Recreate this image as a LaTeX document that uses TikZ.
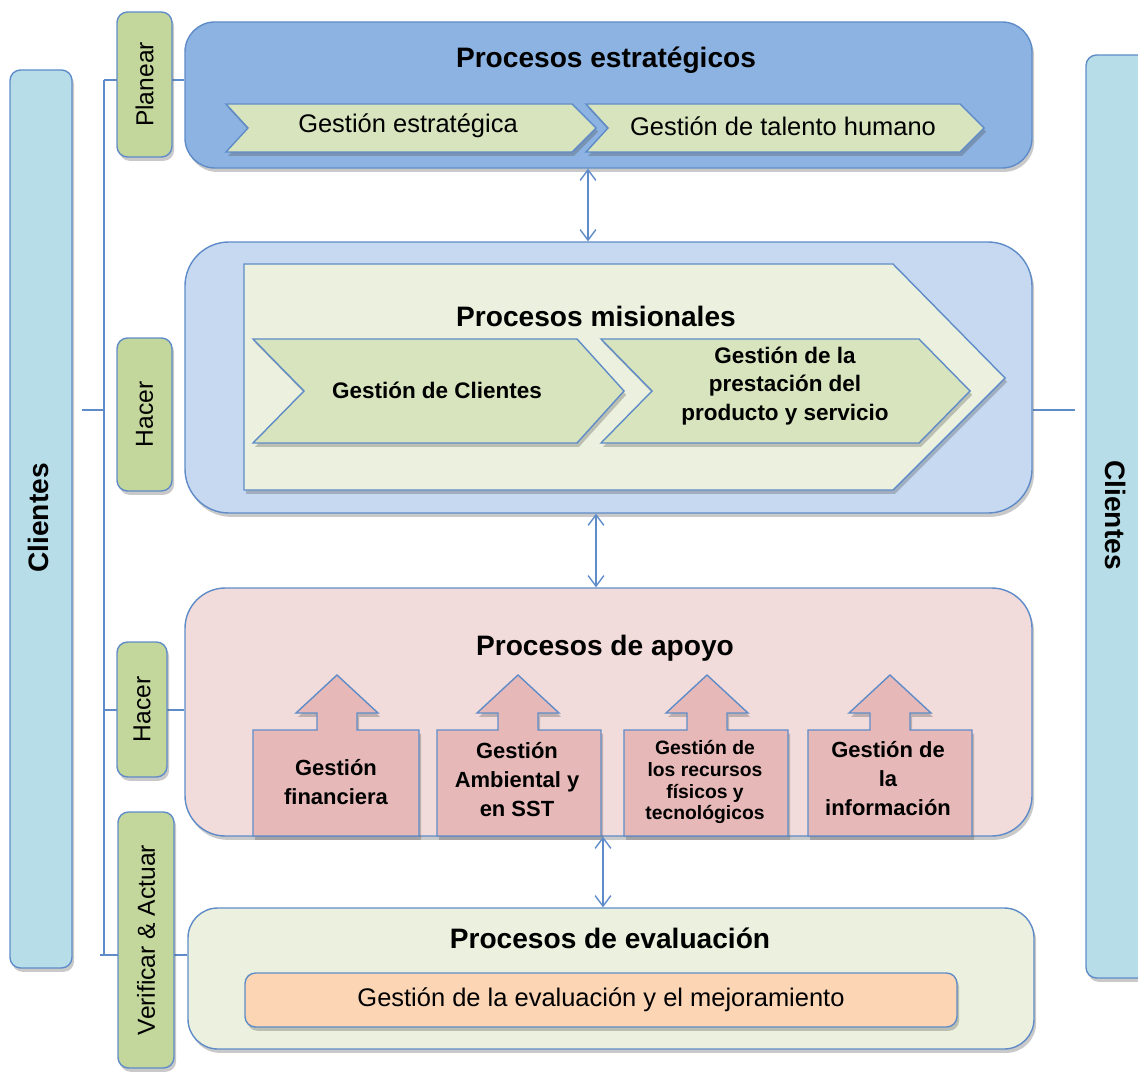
\documentclass[tikz,border=0pt]{standalone}
\usepackage{fontspec}
\setmainfont{Liberation Sans}
\usetikzlibrary{fit,shadows,arrows.meta,backgrounds}
\definecolor{bord}{RGB}{95,140,200}
\definecolor{estfill}{RGB}{141,179,226}
\definecolor{misfill}{RGB}{198,217,241}
\definecolor{apofill}{RGB}{242,220,219}
\definecolor{evafill}{RGB}{235,241,222}
\definecolor{chevfill}{RGB}{215,228,189}
\definecolor{bigchev}{RGB}{235,241,222}
\definecolor{labfill}{RGB}{195,214,155}
\definecolor{clifill}{RGB}{183,222,232}
\definecolor{pinkfill}{RGB}{230,185,184}
\definecolor{orfill}{RGB}{252,213,181}
\begin{document}
\begin{tikzpicture}[x=0.02cm,y=-0.02cm,
  shd/.style={drop shadow={shadow xshift=1.2pt,shadow yshift=-2.2pt,opacity=0.3,fill=black!70}},
  panel/.style={fit={#1},inner sep=0pt,draw=bord,line width=0.8pt,shd},
  shp/.style={draw=bord,line width=0.8pt,shd},
  conn/.style={draw=bord,line width=0.8pt},
  dbl/.style={conn,{Straight Barb[length=6pt,width=9pt]}-{Straight Barb[length=6pt,width=9pt]}},
  titletxt/.style={font=\fontsize{16}{19}\selectfont\bfseries},
  clitxt/.style={font=\fontsize{16}{19}\selectfont\bfseries},
  labtxt/.style={font=\fontsize{14}{16}\selectfont},
  chevtxt/.style={font=\fontsize{14.5}{17}\selectfont},
  mistxt/.style={font=\fontsize{12.8}{16}\selectfont\bfseries,align=center},
  apotxt/.style={font=\fontsize{12.5}{16.5}\selectfont\bfseries,align=center},
  apotxtS/.style={font=\fontsize{11}{12.5}\selectfont\bfseries,align=center},
  evatxt/.style={font=\fontsize{14.5}{17}\selectfont}]
\clip (0,0) rectangle (1138,1074);

% side client bars
\node[panel={(10,70)(72,968)},fill=clifill,rounded corners=6pt] (cliL) {};
\node[clitxt,rotate=90] (cliLt) at (38,518) {Clientes};
\node[panel={(1086,55)(1160,978)},fill=clifill,rounded corners=6pt] (cliR) {};
\node[clitxt,rotate=-90] (cliRt) at (1116,515) {Clientes};

% phase labels
\node[panel={(117,12)(172,157)},fill=labfill,rounded corners=6pt] (lplan) {};
\node[labtxt,rotate=90] (lplant) at (lplan.center) {Planear};
\node[panel={(117,338)(172,491)},fill=labfill,rounded corners=6pt] (lhac1) {};
\node[labtxt,rotate=90] (lhac1t) at (lhac1.center) {Hacer};
\node[panel={(117,642)(167,777)},fill=labfill,rounded corners=6pt] (lhac2) {};
\node[labtxt,rotate=90] (lhac2t) at (lhac2.center) {Hacer};
\node[panel={(118,812)(174,1068)},fill=labfill,rounded corners=6pt] (lver) {};
\node[labtxt,rotate=90] (lvert) at (lver.center) {Verificar \& Actuar};

% main panels
\node[panel={(185,22)(1032,168)},fill=estfill,rounded corners=17pt] (est) {};
\node[panel={(185,242)(1032,513)},fill=misfill,rounded corners=25pt] (mis) {};
\node[panel={(185,588)(1032,836)},fill=apofill,rounded corners=23pt] (apo) {};
\node[panel={(188,908)(1034,1049)},fill=evafill,rounded corners=17pt] (eva) {};

% strategic
\node[titletxt] (estt) at (606,60) {Procesos estratégicos};
\path[shp,fill=chevfill] (226,104) -- (572,104) -- (596,128) -- (572,152) -- (226,152) -- (248,128) -- cycle;
\path[shp,fill=chevfill] (586,104) -- (960,104) -- (984,128) -- (960,152) -- (586,152) -- (608,128) -- cycle;
\node[chevtxt] (c1) at (408,126) {Gestión estratégica};
\node[chevtxt] (c2) at (783,126) {Gestión de talento humano};

% misional
\path[shp,fill=bigchev] (244,264) -- (893,264) -- (1005,378) -- (893,490) -- (244,490) -- cycle;
\node[titletxt] (mist) at (596,316) {Procesos misionales};
\path[shp,fill=chevfill] (253,339) -- (577,339) -- (624,391) -- (577,443) -- (253,443) -- (304,391) -- cycle;
\path[shp,fill=chevfill] (601,339) -- (919,339) -- (970,391) -- (919,443) -- (601,443) -- (652,391) -- cycle;
\node[mistxt] (m1) at (437,390) {Gestión de Clientes};
\node[mistxt] (m2) at (785,386) {Gestión de la\\prestación del\\producto y servicio};

% apoyo
\node[titletxt] (apot) at (605,648) {Procesos de apoyo};
\foreach \L/\R/\t in {253/419/337, 437/601/518, 624/788/707, 808/972/890}{
  \path[shp,fill=pinkfill] (\L,836) -- (\L,730) -- ({\t-20},730) -- ({\t-20},713) -- ({\t-41},713)
     -- (\t,675) -- ({\t+41},713) -- ({\t+20},713) -- ({\t+20},730) -- (\R,730) -- (\R,836) -- cycle;
}
\node[apotxt] (p1) at (336,782) {Gestión\\financiera};
\node[apotxt] (p2) at (517,780) {Gestión\\Ambiental y\\en SST};
\node[apotxtS] (p3) at (705,782) {Gestión de\\los recursos\\físicos y\\tecnológicos};
\node[apotxt] (p4) at (888,779) {Gestión de\\la\\información};

% evaluacion
\node[titletxt] (evat) at (610,938) {Procesos de evaluación};
\node[panel={(245,973)(957,1027)},fill=orfill,rounded corners=6pt] (evb) {};
\node[evatxt] (evbt) at (evb.center) {Gestión de la evaluación y el mejoramiento};

% connectors
\coordinate (x1) at (588,0);
\coordinate (x2) at (596,0);
\coordinate (x3) at (603,0);
\draw[dbl] (est.south -| x1) -- (mis.north -| x1);
\draw[dbl] (mis.south -| x2) -- (apo.north -| x2);
\draw[dbl] (apo.south -| x3) -- (eva.north -| x3);

\coordinate (vt) at (104,80);
\coordinate (vb) at (104,955);
\coordinate (vb0) at (100,955);
\coordinate (hm0) at (82,410);
\coordinate (hm) at (104,410);
\coordinate (ha) at (104,710);
\coordinate (rr) at (1075,410);
\begin{scope}[on background layer]
\draw[conn] (vt) -- (vb);
\draw[conn] (vt) -- (vt -| est.west);
\draw[conn] (vb0) -- (vb0 -| eva.west);
\draw[conn] (hm0) -- (hm);
\draw[conn] (ha) -- (ha -| apo.west);
\draw[conn] (mis.east |- rr) -- (rr);
\end{scope}
\end{tikzpicture}
\end{document}
